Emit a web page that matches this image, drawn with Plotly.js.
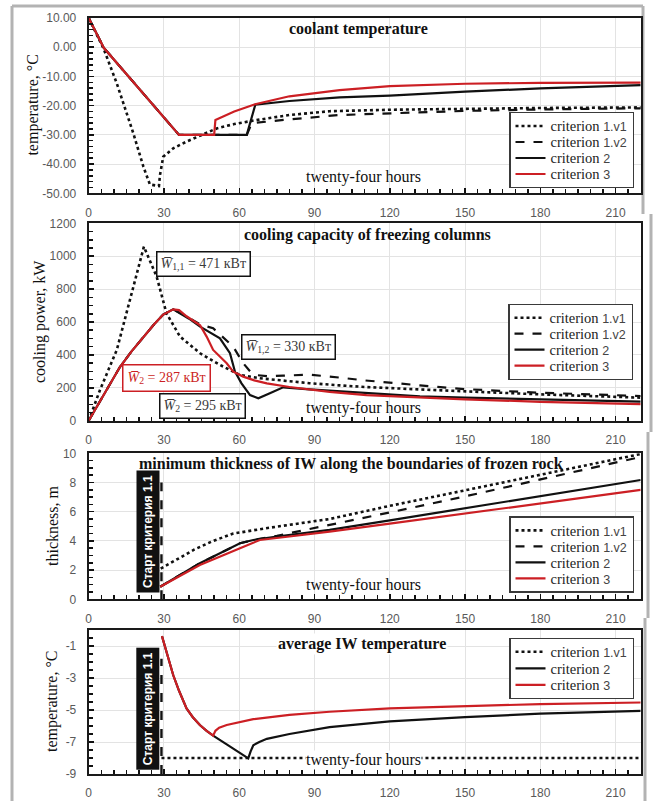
<!DOCTYPE html>
<html><head><meta charset="utf-8">
<script src="https://cdn.plot.ly/plotly-3.0.1.min.js"></script>
<style>html,body{margin:0;padding:0;background:#fff}#chart{width:654px;height:801px}</style>
</head><body><div id="chart"></div>
<script>
// ---------- DATA ----------
const xTickVals = [0, 30, 60, 90, 120, 150, 180, 210];
const p1TickVals = [-50, -40, -30, -20, -10, 0, 10];
const p1TickText = ['-50.00', '-40.00', '-30.00', '-20.00', '-10.00', '0.00', '10.00'];
const p4TickVals = [-9, -7, -5, -3, -1];
const p4TickText = ['-9', '-7', '-5', '-3', '-1'];
const legendLabels = ['1.v1', '1.v2', '2', '3'];
const startCriterionX = 29;

// Panel 1: coolant temperature
const p1_v1_x = [0, 6, 11.2, 17.8, 21.8, 24.4, 28, 28.4, 29.7, 33.7, 39, 44.3, 51, 58, 66.4, 80, 96, 120, 150, 180, 220];
const p1_v1_y = [10, -0.6, -12.4, -29.5, -40.9, -47, -47.5, -43.8, -37.5, -34.6, -32.3, -30.4, -27.8, -26.3, -25, -23.2, -21.9, -21.4, -21.0, -20.8, -20.6];
const p1_v2_x = [0, 6, 36, 63, 65, 66.4, 80, 100, 120, 150, 180, 220];
const p1_v2_y = [10, -0.2, -30, -30, -26, -25.9, -24.7, -23.2, -22.6, -21.8, -21.3, -20.9];
const p1_c2_x = [0, 6, 36, 63, 66.4, 80, 100, 120, 150, 180, 220];
const p1_c2_y = [10, -0.2, -30, -30, -19.7, -18.4, -17.2, -16.6, -15.2, -14.1, -13.0];
const p1_c3_x = [0, 6, 36, 50, 50.5, 58, 66.3, 80, 100, 120, 150, 180, 220];
const p1_c3_y = [10, -0.2, -30, -30, -24.9, -22.0, -19.5, -16.8, -14.7, -13.3, -12.5, -12.2, -12.1];

// Panel 2: cooling capacity
const p2_v1_x = [0, 4.5, 11.2, 17.8, 22, 27.1, 31, 36.4, 44.4, 52.3, 60.3, 68.2, 80, 88, 100, 110, 132, 150, 180, 220];
const p2_v1_y = [0, 187, 430, 815, 1058, 875, 653, 511, 410, 339, 278, 258, 240, 228, 215, 205, 190, 178, 160, 140];
const p2_v2_x = [0, 6, 12.5, 17, 21.8, 26, 29.7, 33.7, 40, 44.4, 49.6, 57.6, 61.6, 64.3, 67, 72, 77.5, 88, 100, 110, 132, 150, 180, 220];
const p2_v2_y = [0, 160, 328, 420, 511, 585, 645, 677, 625, 585, 562, 450, 349, 300, 277, 270, 274, 280, 262, 245, 215, 192, 170, 150];
const p2_c2_x = [0, 6, 12.5, 17, 21.8, 26, 29.7, 33.7, 40, 44.4, 52.3, 56.3, 58.3, 60.9, 64.3, 67.6, 72.2, 77.5, 88, 110.7, 132, 150, 180, 220];
const p2_c2_y = [0, 160, 328, 420, 511, 585, 645, 677, 620, 572, 501, 410, 298, 227, 156, 136, 167, 203, 191, 167, 148, 140, 128, 116];
const p2_c3_x = [0, 6, 12.5, 17, 21.8, 26, 29.7, 33.7, 36, 39, 44.4, 47, 49.6, 55, 57.6, 61.6, 66, 71, 80, 88, 96, 110.7, 132, 150, 180, 220];
const p2_c3_y = [0, 160, 328, 420, 511, 585, 645, 677, 672, 635, 580, 511, 430, 349, 298, 268, 245, 227, 205, 191, 175, 156, 142, 130, 115, 101];

// Panel 3: minimum thickness of IW
const p3_v1_x = [28.7, 35, 42, 49.6, 57.6, 70, 96, 120, 150, 180, 220];
const p3_v1_y = [2.1, 2.7, 3.4, 4.0, 4.5, 4.85, 5.5, 6.4, 7.45, 8.5, 9.95];
const p3_v2_x = [28.5, 44.3, 60.3, 65.6, 75, 96, 120, 150, 180, 220];
const p3_v2_y = [0.86, 2.47, 3.84, 4.06, 4.35, 5.09, 5.95, 7.05, 8.2, 9.75];
const p3_c2_x = [28.5, 44.3, 60.3, 65.6, 75, 96, 120, 150, 180, 220];
const p3_c2_y = [0.86, 2.47, 3.84, 4.06, 4.3, 4.75, 5.41, 6.24, 7.07, 8.17];
const p3_c3_x = [28.5, 44.3, 60.3, 68.2, 80, 96, 120, 150, 180, 220];
const p3_c3_y = [0.86, 2.35, 3.5, 4.06, 4.3, 4.63, 5.18, 5.87, 6.57, 7.49];
const p3_start_y = [0, 8];

// Panel 4: average IW temperature
const p4_v1_x = [29, 220];
const p4_v1_y = [-8, -8];
const p4_c2_x = [29.2, 31, 33.7, 36, 39, 41.5, 44.3, 47, 49.6, 55, 60, 63.6, 64.5, 65.6, 68, 71, 80, 96, 120, 150, 180, 220];
const p4_c2_y = [-0.38, -1.3, -2.83, -3.8, -4.9, -5.45, -5.94, -6.3, -6.6, -7.15, -7.66, -8.02, -7.6, -7.2, -7.0, -6.8, -6.5, -6.07, -5.71, -5.44, -5.23, -5.05];
const p4_c3_x = [29.2, 31, 33.7, 36, 39, 41.5, 44.3, 47, 49.6, 50.5, 52, 55, 60, 65.6, 80, 96, 120, 150, 180, 220];
const p4_c3_y = [-0.38, -1.3, -2.83, -3.8, -4.9, -5.45, -5.94, -6.3, -6.6, -6.3, -6.1, -5.94, -5.75, -5.57, -5.3, -5.11, -4.9, -4.75, -4.63, -4.53];
const p4_start_y = [-9, -1.8];

// ---------- STYLE ----------
const W = 654, H = 801;
const X = px => px / W, Y = py => 1 - py / H;
const RED = '#cc1f24', BLK = '#111111';
const SERIF = "Liberation Serif";
const SANS = "Liberation Sans";

function lname(k) {
  return '<span style="font-family:Liberation Serif;font-size:14.5px">criterion</span> ' +
    '<span style="font-family:Liberation Sans;font-size:12.5px;fill:#444">' + legendLabels[k] + '</span>';
}
const styles = [
  {color: BLK, width: 2.6, dash: 'dot'},
  {color: BLK, width: 2.2, dash: 'dash'},
  {color: BLK, width: 2.2, dash: 'solid'},
  {color: RED, width: 2.2, dash: 'solid'}
];
function tr(x, y, k, n) {
  const sfx = n === 1 ? '' : String(n);
  return {x: x, y: y, type: 'scatter', mode: 'lines', name: lname(k),
    line: Object.assign({}, styles[k]), xaxis: 'x' + sfx, yaxis: 'y' + sfx,
    legend: 'legend' + sfx, showlegend: true, hoverinfo: 'skip'};
}
function vline(y, n) {
  const sfx = n === 1 ? '' : String(n);
  return {x: [startCriterionX, startCriterionX], y: y, type: 'scatter', mode: 'lines',
    line: {color: BLK, width: 2.4, dash: 'dash'}, xaxis: 'x' + sfx, yaxis: 'y' + sfx, showlegend: false, hoverinfo: 'skip'};
}

const data = [
  tr(p1_v1_x, p1_v1_y, 0, 1), tr(p1_v2_x, p1_v2_y, 1, 1), tr(p1_c2_x, p1_c2_y, 2, 1), tr(p1_c3_x, p1_c3_y, 3, 1),
  tr(p2_v1_x, p2_v1_y, 0, 2), tr(p2_v2_x, p2_v2_y, 1, 2), tr(p2_c2_x, p2_c2_y, 2, 2), tr(p2_c3_x, p2_c3_y, 3, 2),
  vline(p3_start_y, 3),
  tr(p3_v1_x, p3_v1_y, 0, 3), tr(p3_v2_x, p3_v2_y, 1, 3), tr(p3_c2_x, p3_c2_y, 2, 3), tr(p3_c3_x, p3_c3_y, 3, 3),
  vline(p4_start_y, 4),
  tr(p4_v1_x, p4_v1_y, 0, 4), tr(p4_c2_x, p4_c2_y, 2, 4), tr(p4_c3_x, p4_c3_y, 3, 4)
];

const xDom = [X(88.7), X(640.7)];
const yDoms = [[Y(193.3), Y(18)], [Y(420.7), Y(223.3)], [Y(599.3), Y(453.3)], [Y(774), Y(630)]];
const minorT = {ticks: 'inside', ticklen: 4, tickcolor: BLK, tickwidth: 1.5, showgrid: false};

function xax(n) {
  return {domain: xDom, range: [0, 220], anchor: n === 1 ? 'y' : 'y' + n,
    tickvals: xTickVals, ticks: 'inside', ticklen: 5, tickcolor: BLK, tickwidth: 1.5,
    minor: Object.assign({dtick: 5}, minorT),
    showline: true, mirror: true, linecolor: '#1a1a1a', linewidth: 2,
    showgrid: true, gridcolor: '#e3e3e3', gridwidth: 1, zeroline: false,
    tickfont: {family: SANS, size: 12, color: '#595959'}, ticklabelstandoff: 7, fixedrange: true};
}
function yax(n, opts) {
  return Object.assign({domain: yDoms[n - 1], anchor: n === 1 ? 'x' : 'x' + n,
    ticks: 'inside', ticklen: 5, tickcolor: BLK, tickwidth: 1.5,
    showline: true, mirror: true, linecolor: '#1a1a1a', linewidth: 2,
    showgrid: true, gridcolor: '#e3e3e3', gridwidth: 1, zeroline: false,
    tickfont: {family: SANS, size: 12, color: '#595959'}, ticklabelstandoff: 8, fixedrange: true}, opts);
}

function legend(xr, y, anchor) {
  return {x: X(xr), xanchor: 'right', y: y, yanchor: anchor, bgcolor: 'white',
    bordercolor: '#3a3a3a', borderwidth: 1.5, font: {family: SERIF, size: 14, color: '#222'},
    itemclick: false, itemdoubleclick: false};
}

const ann = [];
function txt(text, px, py, o) {
  ann.push(Object.assign({text: text, xref: 'paper', yref: 'paper', x: X(px), y: Y(py),
    xanchor: 'center', yanchor: 'middle', showarrow: false,
    font: {family: SERIF, size: 16, color: '#111'}}, o || {}));
}
// panel titles
txt('<b>coolant temperature</b>', 358, 29);
txt('<b>cooling capacity of freezing columns</b>', 367, 235);
txt('<b>minimum thickness of IW along the boundaries of frozen rock</b>', 350.5, 464);
txt('<b>average IW temperature</b>', 362, 644, {bgcolor: 'white'});
// x-axis labels inside
txt('twenty-four hours', 363.5, 177);
txt('twenty-four hours', 363.5, 408);
txt('twenty-four hours', 363.5, 585);
txt('twenty-four hours', 363.5, 760, {bgcolor: 'white', borderpad: 0});
// y-axis titles
txt('temperature, °C', 33, 105.6, {textangle: -90});
txt('cooling power, kW', 40, 322, {textangle: -90});
txt('thickness, m', 52, 526, {textangle: -90});
txt('temperature, °C', 52, 702, {textangle: -90});
// mean power boxes
const boxFont = {family: SERIF, size: 14, color: '#3a3a3a'};
txt('<i>W\u0305</i><sub>1,1</sub> = 471 кВт', 203, 264, {font: boxFont, bgcolor: 'white', bordercolor: '#111', borderwidth: 1.5, borderpad: 3});
txt('<i>W\u0305</i><sub>1,2</sub> = 330 кВт', 288.5, 346.5, {font: boxFont, bgcolor: 'white', bordercolor: '#111', borderwidth: 1.5, borderpad: 3});
txt('<i>W\u0305</i><sub>2</sub> = 287 кВт', 166.5, 378.5, {font: {family: SERIF, size: 14, color: RED}, bgcolor: 'white', bordercolor: RED, borderwidth: 1.5, borderpad: 4});
txt('<i>W\u0305</i><sub>2</sub> = 295 кВт', 202, 406, {font: boxFont, bgcolor: 'white', bordercolor: '#111', borderwidth: 1.5, borderpad: 3});
// start criterion labels
const startFont = {family: SANS, size: 12, color: 'white'};
txt('<b>Старт критерия 1.1</b>', 147.5, 531.5, {textangle: -90, font: startFont, bgcolor: '#111', borderpad: 4});
txt('<b>Старт критерия 1.1</b>', 147.5, 708.7, {textangle: -90, font: startFont, bgcolor: '#111', borderpad: 4});

const G = '#b3b3b3';
function gl(x0, y0, x1, y1) {
  return {type: 'line', xref: 'paper', yref: 'paper', x0: X(x0), y0: Y(y0), x1: X(x1), y1: Y(y1), line: {color: G, width: 3}, layer: 'below'};
}
const shapes = [
  gl(12, 6, 643, 6), gl(12, 6, 12, 801),
  gl(643, 6, 643, 214), gl(651, 214, 651, 432), gl(648, 432, 648, 618), gl(645, 618, 645, 801)
];

const layout = {
  width: W, height: H, margin: {l: 0, r: 0, t: 0, b: 0, autoexpand: false},
  paper_bgcolor: 'white', plot_bgcolor: 'white',
  xaxis: xax(1), xaxis2: xax(2), xaxis3: xax(3), xaxis4: xax(4),
  yaxis: yax(1, {range: [-50, 10], tickvals: p1TickVals, ticktext: p1TickText, minor: Object.assign({dtick: 2, tick0: -50}, minorT)}),
  yaxis2: yax(2, {range: [0, 1200], dtick: 200, minor: Object.assign({dtick: 50}, minorT)}),
  yaxis3: yax(3, {range: [0, 10], dtick: 2, minor: Object.assign({dtick: 0.5}, minorT)}),
  yaxis4: yax(4, {range: [-9, 0], tickvals: p4TickVals, ticktext: p4TickText, minor: Object.assign({dtick: 0.5, tick0: -9}, minorT)}),
  legend: legend(634, Y(188.3), 'bottom'),
  legend2: legend(633, Y(380), 'bottom'),
  legend3: legend(634, Y(592.7), 'bottom'),
  legend4: legend(634, Y(637.7), 'top'),
  annotations: ann, shapes: shapes, showlegend: true
};

// tighten legend row spacing to match the reference boxes
function tightenLegends() {
  const cfg = [['legend', 16, true], ['legend2', 16, true], ['legend3', 16, true], ['legend4', 16.5, false]];
  const parse = el => {
    const m = /translate\(\s*([-\d.e]+)[ ,]+([-\d.e]+)/.exec(el.getAttribute('transform') || '');
    return m ? [parseFloat(m[1]), parseFloat(m[2])] : [0, 0];
  };
  cfg.forEach(([cls, step, bottom]) => {
    const lg = document.querySelector('g.' + cls);
    if (!lg) return;
    const items = lg.querySelectorAll('g.traces');
    if (items.length < 2) return;
    const pos = Array.from(items).map(parse);
    const y0 = pos[0][1] - 3;
    const oldSpan = pos[pos.length - 1][1] - pos[0][1];
    const shrink = oldSpan - step * (items.length - 1) + 6;
    items.forEach((e, i) => e.setAttribute('transform', 'translate(' + pos[i][0] + ',' + (y0 + i * step) + ')'));
    const bg = lg.querySelector('rect.bg');
    if (bg) bg.setAttribute('height', parseFloat(bg.getAttribute('height')) - shrink);
    if (bottom) {
      const p = parse(lg);
      lg.setAttribute('transform', 'translate(' + p[0] + ',' + (p[1] + shrink) + ')');
    }
  });
}

Plotly.newPlot('chart', data, layout, {displayModeBar: false, staticPlot: true}).then(tightenLegends);
</script></body></html>
